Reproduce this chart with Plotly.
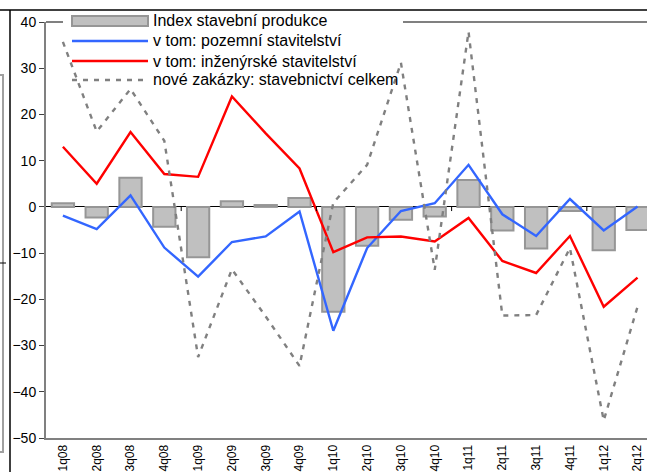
import plotly.graph_objects as go

quarters = ["1q08", "2q08", "3q08", "4q08", "1q09", "2q09", "3q09", "4q09",
            "1q10", "2q10", "3q10", "4q10", "1q11", "2q11", "3q11", "4q11",
            "1q12", "2q12"]
index_produkce = [0.8, -2.3, 6.3, -4.3, -10.9, 1.2, 0.4, 1.9,
                  -22.7, -8.4, -2.8, -2.1, 5.8, -5.1, -9.0, -0.9,
                  -9.4, -5.0]
pozemni = [-1.9, -4.8, 2.5, -8.8, -15.1, -7.6, -6.4, -1.0,
           -26.8, -8.9, -0.9, 0.8, 9.1, -1.6, -6.3, 1.7,
           -5.1, 0.1]
inzenyrske = [13.0, 5.0, 16.2, 7.1, 6.5, 23.9, 15.9, 8.3,
              -9.8, -6.6, -6.4, -7.5, -2.4, -11.7, -14.3, -6.3,
              -21.6, -15.3]
zakazky = [35.7, 16.3, 25.5, 14.3, -32.5, -13.5, -23.7, -34.4,
           0.9, 9.1, 31.2, -13.6, 37.9, -23.5, -23.4, -8.9,
           -46.2, -21.6]
series_names = ["Index stavební produkce", "v tom: pozemní stavitelství",
                "v tom: inženýrské stavitelství", "nové zakázky: stavebnictví celkem"]

W, H = 647, 472
L, R, T, B = 46, 0, 22, 34
PW, PH = W - L - R, H - T - B
FONT = "Liberation Sans, Arial, sans-serif"
BAR_FILL, BAR_LINE = "#C0C0C0", "#969696"
BLUE, RED, GREY = "#3366FF", "#FF0000", "#808080"
DASH = "5px,6px"
LW = 2.4


def px(x):
    return (x - L) / PW


def py(y):
    return (H - B - y) / PH


fig = go.Figure()
fig.add_trace(go.Bar(x=quarters, y=index_produkce, name=series_names[0], width=0.66,
                     marker=dict(color=BAR_FILL, line=dict(color=BAR_LINE, width=2))))
fig.add_trace(go.Scatter(x=quarters, y=pozemni, name=series_names[1], mode="lines",
                         line=dict(color=BLUE, width=LW)))
fig.add_trace(go.Scatter(x=quarters, y=inzenyrske, name=series_names[2], mode="lines",
                         line=dict(color=RED, width=LW)))
fig.add_trace(go.Scatter(x=quarters, y=zakazky, name=series_names[3], mode="lines",
                         line=dict(color=GREY, width=LW, dash=DASH)))

shapes = []
# plot top border (interrupted by legend)
shapes.append(dict(type="line", xref="paper", yref="paper", x0=0, x1=px(63), y0=1, y1=1,
                   line=dict(color=GREY, width=2)))
shapes.append(dict(type="line", xref="paper", yref="paper", x0=px(403), x1=1.01, y0=1, y1=1,
                   line=dict(color=GREY, width=2)))
# outer frame pieces
shapes.append(dict(type="line", xref="paper", yref="paper", x0=px(-5), x1=px(660), y0=py(10), y1=py(10),
                   line=dict(color="black", width=1.5)))
shapes.append(dict(type="line", xref="paper", yref="paper", x0=px(10), x1=px(10), y0=py(10), y1=py(480),
                   line=dict(color="black", width=1.5)))
shapes.append(dict(type="rect", xref="paper", yref="paper", x0=px(-10), x1=px(3), y0=py(452), y1=py(75),
                   line=dict(color="#A0A0A0", width=2)))
shapes.append(dict(type="line", xref="paper", yref="paper", x0=px(0), x1=px(6), y0=py(263), y1=py(263),
                   line=dict(color="black", width=1)))
# small category ticks on the zero line
for b in [3.5, 7.5, 11.5, 15.5]:
    shapes.append(dict(type="line", xref="x", yref="y", x0=b, x1=b, y0=0, y1=-0.9,
                       line=dict(color="black", width=1)))

# manual legend
sx0, sx1 = px(72), px(148)
rows = [21, 41, 61, 80]
shapes.append(dict(type="rect", xref="paper", yref="paper", x0=sx0, x1=sx1, y0=py(26), y1=py(16),
                   fillcolor=BAR_FILL, line=dict(color=BAR_LINE, width=2)))
shapes.append(dict(type="line", xref="paper", yref="paper", x0=sx0, x1=sx1, y0=py(rows[1]), y1=py(rows[1]),
                   line=dict(color=BLUE, width=LW)))
shapes.append(dict(type="line", xref="paper", yref="paper", x0=sx0, x1=sx1, y0=py(rows[2]), y1=py(rows[2]),
                   line=dict(color=RED, width=LW)))
shapes.append(dict(type="line", xref="paper", yref="paper", x0=sx0, x1=sx1, y0=py(rows[3]), y1=py(rows[3]),
                   line=dict(color=GREY, width=LW, dash=DASH)))

annotations = []
for name, r in zip(series_names, rows):
    annotations.append(dict(text=name, xref="paper", yref="paper", x=px(151), y=py(r),
                            xanchor="left", yanchor="middle", showarrow=False,
                            font=dict(family=FONT, size=16, color="black")))

fig.update_layout(
    width=W, height=H,
    margin=dict(l=L, r=R, t=T, b=B, autoexpand=False),
    paper_bgcolor="white", plot_bgcolor="white",
    showlegend=False,
    font=dict(family=FONT, size=13, color="black"),
    shapes=shapes, annotations=annotations,
    bargap=0.3,
)
fig.update_xaxes(type="category", range=[-0.5, 17.28], tickangle=-90,
                 showline=True, linecolor=GREY, linewidth=2, ticks="",
                 showgrid=False, zeroline=False, automargin=False,
                 tickfont=dict(family=FONT, size=12, color="black"))
fig.update_yaxes(range=[-50, 40], dtick=10, tick0=0, showline=True, linecolor=GREY, linewidth=2,
                 ticks="outside", ticklen=5, tickwidth=1, tickcolor="#404040",
                 showgrid=False, zeroline=True, zerolinecolor="black", zerolinewidth=1,
                 automargin=False, tickfont=dict(family=FONT, size=14, color="black"))

fig.write_html("out.html",
               config={"displayModeBar": False},
               post_script="document.body.style.margin='0';document.body.style.overflow='hidden';")
